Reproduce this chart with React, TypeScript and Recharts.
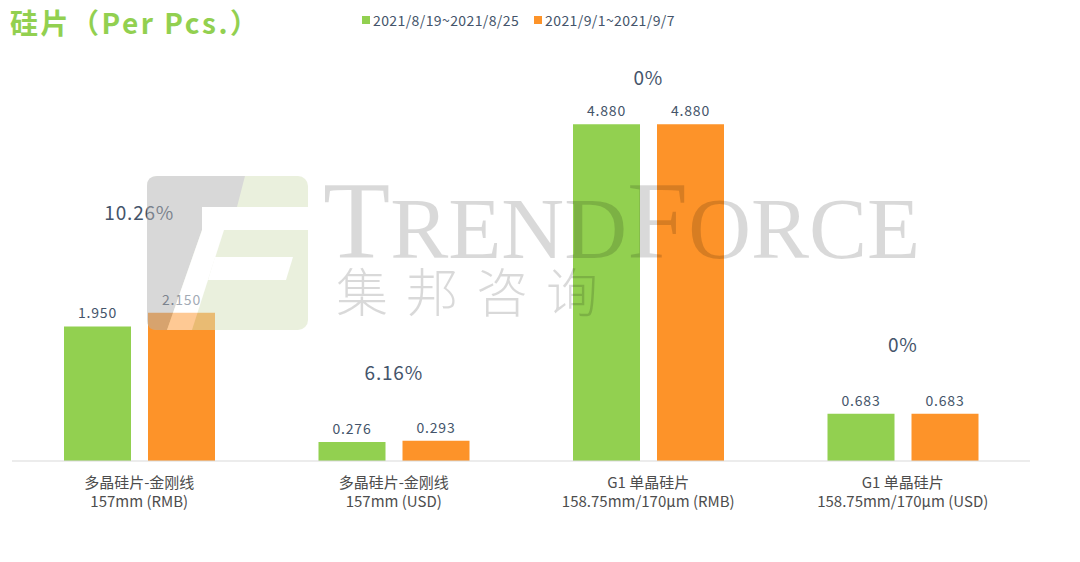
import React from "react";
import { ComposedChart, Bar, Line, XAxis, YAxis, LabelList } from "recharts";

const categories = [
  ["多晶硅片-金刚线", "157mm (RMB)"],
  ["多晶硅片-金刚线", "157mm (USD)"],
  ["G1 单晶硅片", "158.75mm/170μm (RMB)"],
  ["G1 单晶硅片", "158.75mm/170μm (USD)"],
];
const seriesNames = ["2021/8/19~2021/8/25", "2021/9/1~2021/9/7"];
const previousWeek = [1.95, 0.276, 4.88, 0.683];
const currentWeek = [2.15, 0.293, 4.88, 0.683];
const changeLabels = ["10.26%", "6.16%", "0%", "0%"];
// height (in value units) where each change label sits above its group
const changeLabelY = [3.61, 1.3, 5.57, 1.71];

const GREEN = "#92d050";
const ORANGE = "#fd9329";
const TEXT = "#44546a";
const FONT = "'Noto Sans CJK SC', 'Noto Sans', sans-serif";

const data = categories.map((c, i) => ({
  name: i,
  prev: previousWeek[i],
  curr: currentWeek[i],
  change: changeLabelY[i],
}));

function CategoryTick({ x, y, payload }: any) {
  const lines = categories[payload.value];
  return (
    <g transform={`translate(${x},${y})`}>
      {lines.map((t, i) => (
        <text
          key={i}
          x={0}
          y={12 + i * 19}
          textAnchor="middle"
          dominantBaseline="central"
          fill="#4d4d4d"
          fontSize={15}
          fontFamily={FONT}
        >
          {t}
        </text>
      ))}
    </g>
  );
}

function ChangeLabel({ x, y, index }: any) {
  return (
    <text
      x={x}
      y={y}
      textAnchor="middle"
      dominantBaseline="central"
      fill={TEXT}
      fontSize={19}
      letterSpacing={0.8}
      fontFamily={FONT}
    >
      {changeLabels[index]}
    </text>
  );
}

function Watermark() {
  return (
    <svg
      width={1080}
      height={562}
      style={{ position: "absolute", left: 0, top: 0, pointerEvents: "none" }}
    >
      <g opacity={0.5}>
        <rect x={147} y={176} width={161} height={154} rx={10} fill="#d7e3bd" />
        <path
          d="M157,176 L245,176 L237,207 L202,207 L202,230 L167,330 L157,330 Q147,330 147,320 L147,186 Q147,176 157,176 Z"
          fill="#b3b3b3"
        />
        <polygon points="202,207 308,207 308,230 202,230" fill="#ffffff" />
        <polygon points="202,230 224,230 192,330 167,330" fill="#ffffff" />
        <polygon points="215,257 293,257 286,280 208,280" fill="#ffffff" />
      </g>
      <text
        x={323}
        y={258}
        fill="rgba(0,0,0,0.15)"
        fontFamily="'Liberation Serif', 'DejaVu Serif', serif"
        fontSize={87}
      >
        <tspan fontSize={110}>T</tspan>
        REND
        <tspan fontSize={110}>F</tspan>
        ORCE
      </text>
      <text
        x={336}
        y={312}
        fill="rgba(0,0,0,0.15)"
        fontFamily={FONT}
        fontSize={52}
        fontWeight={300}
        letterSpacing={18}
      >
        集邦咨询
      </text>
    </svg>
  );
}

export default function App() {
  return (
    <div
      style={{
        position: "absolute",
        left: 0,
        top: 0,
        width: 1080,
        height: 562,
        background: "#fff",
        fontFamily: FONT,
      }}
    >
      <div
        style={{
          position: "absolute",
          left: 10,
          top: 2,
          fontSize: 28,
          fontWeight: "bold",
          letterSpacing: 2.5,
          color: GREEN,
          whiteSpace: "nowrap",
        }}
      >
        硅片（Per Pcs.）
      </div>
      <div
        style={{
          position: "absolute",
          left: 362,
          top: 10,
          display: "flex",
          alignItems: "center",
          fontSize: 14,
          letterSpacing: 0.4,
          color: TEXT,
          whiteSpace: "nowrap",
        }}
      >
        {seriesNames.map((n, i) => (
          <span key={n} style={{ display: "flex", alignItems: "center", marginRight: 15 }}>
            <span
              style={{
                width: 8,
                height: 8,
                background: i === 0 ? GREEN : ORANGE,
                marginRight: 3,
              }}
            />
            {n}
          </span>
        ))}
      </div>
      <ComposedChart
        width={1080}
        height={562}
        data={data}
        margin={{ top: 47, right: 50, bottom: 0, left: 12 }}
        barGap={17}
        style={{ position: "absolute", left: 0, top: 0 }}
      >
        <XAxis
          dataKey="name"
          axisLine={{ stroke: "#d9d9d9" }}
          tickLine={false}
          tick={<CategoryTick />}
          interval={0}
          height={101}
        />
        <YAxis hide domain={[0, 6]} />
        <Bar dataKey="prev" fill={GREEN} barSize={67} isAnimationActive={false}>
          <LabelList
            dataKey="prev"
            position="top"
            offset={8}
            formatter={(v: number) => v.toFixed(3)}
            fill={TEXT}
            fontSize={14}
            letterSpacing={0.8}
            fontFamily={FONT}
          />
        </Bar>
        <Bar dataKey="curr" fill={ORANGE} barSize={67} isAnimationActive={false}>
          <LabelList
            dataKey="curr"
            position="top"
            offset={8}
            formatter={(v: number) => v.toFixed(3)}
            fill={TEXT}
            fontSize={14}
            letterSpacing={0.8}
            fontFamily={FONT}
          />
        </Bar>
        <Line
          dataKey="change"
          stroke="none"
          dot={false}
          activeDot={false}
          isAnimationActive={false}
          label={<ChangeLabel />}
        />
      </ComposedChart>
      <Watermark />
    </div>
  );
}
